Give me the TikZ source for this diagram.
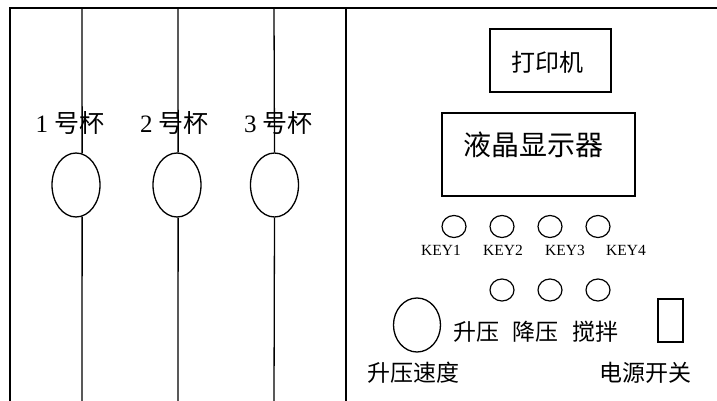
\documentclass[tikz,border=0pt]{standalone}
\usepackage{fontspec}
\setmainfont{Liberation Serif}
\newfontfamily\cjk{Noto Sans CJK SC}
\usetikzlibrary{shapes.geometric}
\begin{document}
\begin{tikzpicture}[x=1pt,y=-1pt,
  ln/.style={line width=1.3pt},
  frame/.style={line width=1.6pt},
  cup/.style={draw, ellipse, line width=1.3pt, minimum width=48pt, minimum height=64pt, inner sep=0pt},
  btn/.style={draw, ellipse, line width=1.2pt, minimum width=24pt, minimum height=22pt, inner sep=0pt},
  box/.style={draw, rectangle, line width=1.3pt, inner sep=0pt},
  lab/.style={inner sep=0pt, font=\cjk\fontsize{23}{23}\selectfont},
  cuplab/.style={inner sep=0pt, font=\fontsize{25}{25}\selectfont},
  keylab/.style={inner sep=0pt, font=\fontsize{15.5}{15.5}\selectfont}]
\useasboundingbox (0,0) rectangle (717,401);
% frame
\coordinate (fbl) at (10,401);
\coordinate (ftl) at (10,8);
\coordinate (ftr) at (717,8);
\coordinate (dtop) at (346,8);
\coordinate (dbot) at (346,401);
\draw[frame] (fbl) -- (ftl) -- (ftr);
\draw[frame] (dtop) -- (dbot);
% cups
\node[cup] (cup1) at (76,185) {};
\node[cup] (cup2) at (177,185) {};
\node[cup] (cup3) at (274.5,185) {};
\coordinate (c1t) at (82,8);  \coordinate (c1b) at (82,401);
\coordinate (c2t) at (178,8); \coordinate (c2b) at (178,401);
\coordinate (c3t) at (274,8); \coordinate (c3b) at (274,401);
\draw[ln] (c1t) -- (cup1.79);
\draw[ln] (cup1.-79) -- (c1b);
\draw[ln] (c2t) -- (cup2.88);
\draw[ln] (cup2.-88) -- (c2b);
\draw[ln] (c3t) -- (cup3.north);
\draw[ln] (cup3.south) -- (c3b);
\node[cuplab] (l1) at (70,123) {1 {\cjk 号杯}};
\node[cuplab] (l2) at (174.5,123) {2 {\cjk 号杯}};
\node[cuplab] (l3) at (278.5,123) {3 {\cjk 号杯}};
% printer and LCD
\node[box, minimum width=121pt, minimum height=63pt] (prn) at (550.5,60.5) {};
\node[lab, font=\cjk\fontsize{24}{24}\selectfont] (prnt) at (547,62) {打印机};
\node[box, minimum width=193pt, minimum height=83pt] (lcd) at (538.5,154.5) {};
\node[lab, font=\cjk\fontsize{28}{28}\selectfont] (lcdt) at (533,145) {液晶显示器};
% keys
\node[btn] (k1) at (454,226.5) {};
\node[btn] (k2) at (502,226.5) {};
\node[btn] (k3) at (550,226.5) {};
\node[btn] (k4) at (598,226.5) {};
\node[keylab] (k1t) at (441,250) {KEY1};
\node[keylab] (k2t) at (503,250) {KEY2};
\node[keylab] (k3t) at (565,250) {KEY3};
\node[keylab] (k4t) at (626,250) {KEY4};
% second row
\node[btn] (b1) at (502,290) {};
\node[btn] (b2) at (550,290) {};
\node[btn] (b3) at (598,290) {};
\node[lab] (b1t) at (476.5,332) {升压};
\node[lab] (b2t) at (535.5,332) {降压};
\node[lab] (b3t) at (595.5,332) {搅拌};
% knob and switch
\node[draw, ellipse, line width=1.3pt, minimum width=47pt, minimum height=54pt, inner sep=0pt] (knob) at (417,325) {};
\node[lab] (knobt) at (413.5,373) {升压速度};
\node[box, minimum width=25pt, minimum height=43pt] (sw) at (670.5,320.5) {};
\node[lab] (swt) at (645,373) {电源开关};
\end{tikzpicture}
\end{document}
